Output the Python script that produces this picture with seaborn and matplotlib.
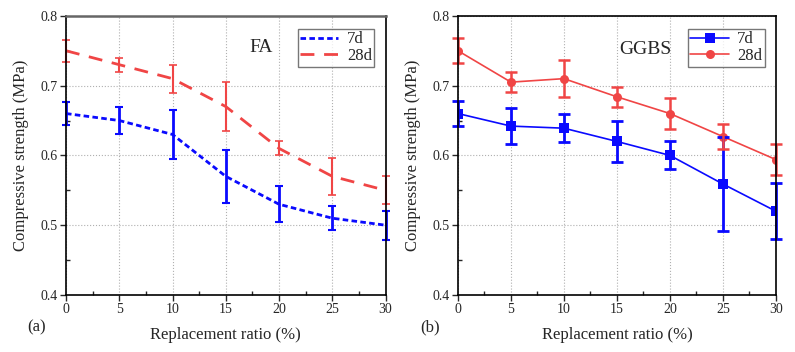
import numpy as np
import pandas as pd
import seaborn as sns
import matplotlib.pyplot as plt
from matplotlib.ticker import MultipleLocator

# --- Data ---
ratio = [0, 5, 10, 15, 20, 25, 30]

fa_7d = [0.660, 0.650, 0.630, 0.570, 0.530, 0.510, 0.500]
fa_7d_err = [0.017, 0.020, 0.035, 0.038, 0.026, 0.017, 0.021]
fa_28d = [0.750, 0.730, 0.710, 0.670, 0.610, 0.570, 0.550]
fa_28d_err = [0.016, 0.010, 0.020, 0.035, 0.010, 0.027, 0.020]

gg_7d = [0.660, 0.642, 0.639, 0.620, 0.600, 0.559, 0.520]
gg_7d_err = [0.018, 0.026, 0.020, 0.030, 0.020, 0.068, 0.040]
gg_28d = [0.750, 0.705, 0.710, 0.684, 0.660, 0.627, 0.594]
gg_28d_err = [0.018, 0.014, 0.027, 0.014, 0.022, 0.018, 0.022]

BLUE = '#0a0aff'
RED = '#f04545'

sns.set_style('ticks')
plt.rcParams['font.family'] = ['Liberation Serif', 'DejaVu Serif']
plt.rcParams['xtick.direction'] = 'out'
plt.rcParams['ytick.direction'] = 'out'


def long_df(a, b):
    return pd.DataFrame({
        'ratio': ratio * 2,
        'strength': a + b,
        'age': ['7d'] * len(ratio) + ['28d'] * len(ratio),
    })


fig = plt.figure(figsize=(7.95, 3.52), dpi=100)
ax1 = fig.add_axes([0.083, 0.162, 0.402, 0.793])
ax2 = fig.add_axes([0.576, 0.162, 0.400, 0.793])

# --- (a) FA ---
sns.lineplot(data=long_df(fa_7d, fa_28d), x='ratio', y='strength', hue='age',
             style='age', palette={'7d': BLUE, '28d': RED},
             dashes={'7d': (2, 1.2), '28d': (5, 3.5)}, linewidth=2, ax=ax1)
ax1.errorbar(ratio, fa_7d, yerr=fa_7d_err, fmt='none', ecolor=BLUE,
             elinewidth=2, capsize=3, capthick=1.5, clip_on=False)
ax1.errorbar(ratio, fa_28d, yerr=fa_28d_err, fmt='none', ecolor=RED,
             elinewidth=1.5, capsize=3, capthick=1.2, clip_on=False)
ax1.text(18.3, 0.755, 'FA', fontsize=14, ha='center', va='center')

# --- (b) GGBS ---
sns.lineplot(data=long_df(gg_7d, gg_28d), x='ratio', y='strength', hue='age',
             style='age', palette={'7d': BLUE, '28d': RED},
             dashes=False, markers={'7d': 's', '28d': 'o'}, markersize=6.5,
             markeredgewidth=0, linewidth=1.2, ax=ax2)
ax2.errorbar(ratio, gg_7d, yerr=gg_7d_err, fmt='none', ecolor=BLUE,
             elinewidth=2, capsize=4, capthick=2, clip_on=False)
ax2.errorbar(ratio, gg_28d, yerr=gg_28d_err, fmt='none', ecolor=RED,
             elinewidth=1.8, capsize=4, capthick=1.8, clip_on=False)
ax2.text(17.7, 0.752, 'GGBS', fontsize=14, ha='center', va='center')

for ax, tag in ((ax1, '(a)'), (ax2, '(b)')):
    ax.set_xlim(0, 30)
    ax.set_ylim(0.4, 0.8)
    ax.xaxis.set_major_locator(MultipleLocator(5))
    ax.xaxis.set_minor_locator(MultipleLocator(2.5))
    ax.yaxis.set_major_locator(MultipleLocator(0.1))
    ax.yaxis.set_minor_locator(MultipleLocator(0.05))
    ax.tick_params(which='major', length=4, width=1, labelsize=10, pad=2)
    ax.tick_params(which='minor', direction='in', length=3, width=1)
    ax.grid(True, which='major', linestyle=':', color='#b0b0b0', linewidth=0.8)
    for s in ax.spines.values():
        s.set_linewidth(1.2)
        s.set_color('black')
    ax.set_xlabel('Replacement ratio (%)', fontsize=12, labelpad=8)
    ax.set_ylabel('Compressive strength (MPa)', fontsize=12, labelpad=8)
    ax.text(-0.12, -0.115, tag, transform=ax.transAxes, fontsize=12,
            ha='left', va='center')
    leg = ax.legend(title=None, loc='upper right', bbox_to_anchor=(0.975, 0.965),
                    fontsize=12, frameon=True, fancybox=False, handlelength=2.3,
                    borderpad=0.15, labelspacing=0.05, handletextpad=0.5,
                    borderaxespad=0.2)
    leg.get_frame().set_edgecolor('#555555')
    leg.get_frame().set_linewidth(1)

ax1.spines['top'].set_color('#666666')
ax1.spines['top'].set_linewidth(1.8)

fig.savefig('out.png', dpi=100, facecolor='white')
